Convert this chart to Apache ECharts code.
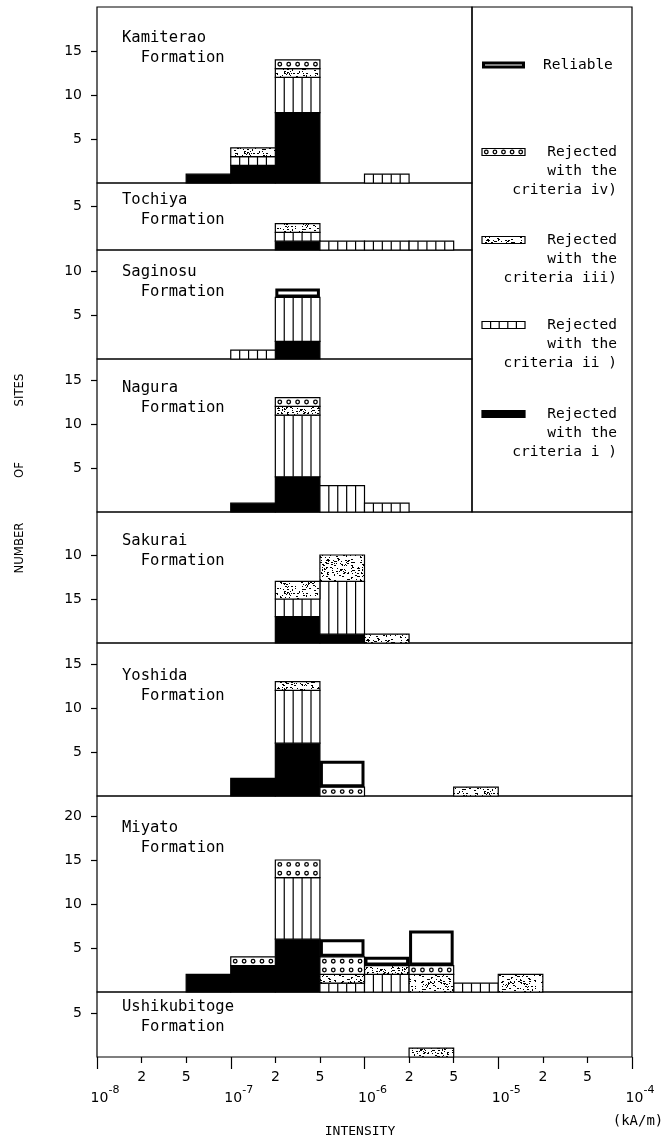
<!DOCTYPE html>
<html><head><meta charset="utf-8">
<script src="https://cdn.jsdelivr.net/npm/echarts@6/dist/echarts.min.js"></script>
<style>html,body{margin:0;padding:0;background:#fff}#c{width:671px;height:1140px}</style>
</head><body><div id="c"></div>
<script>
// ---------------- DATA ----------------
const formations = ["Kamiterao","Tochiya","Saginosu","Nagura","Sakurai","Yoshida","Miyato","Ushikubitoge"];
const categoryKeys = ["i","ii","iii","iv","rel"];
const xTickLabels = ["10^-8","2","5","10^-7","2","5","10^-6","2","5","10^-5","2","5","10^-4"];
// 12 bins: 1-2e-8, 2-5e-8, 5e-8-1e-7, 1-2e-7, 2-5e-7, 5e-7-1e-6, 1-2e-6, 2-5e-6, 5e-6-1e-5, 1-2e-5, 2-5e-5, 5e-5-1e-4
const kamiterao_i   = [0,0,1,2,8,0,0,0,0,0,0,0];
const kamiterao_ii  = [0,0,0,1,4,0,1,0,0,0,0,0];
const kamiterao_iii = [0,0,0,1,1,0,0,0,0,0,0,0];
const kamiterao_iv  = [0,0,0,0,1,0,0,0,0,0,0,0];
const kamiterao_rel = [0,0,0,0,0,0,0,0,0,0,0,0];
const tochiya_i   = [0,0,0,0,1,0,0,0,0,0,0,0];
const tochiya_ii  = [0,0,0,0,1,1,1,1,0,0,0,0];
const tochiya_iii = [0,0,0,0,1,0,0,0,0,0,0,0];
const tochiya_iv  = [0,0,0,0,0,0,0,0,0,0,0,0];
const tochiya_rel = [0,0,0,0,0,0,0,0,0,0,0,0];
const saginosu_i   = [0,0,0,0,2,0,0,0,0,0,0,0];
const saginosu_ii  = [0,0,0,1,5,0,0,0,0,0,0,0];
const saginosu_iii = [0,0,0,0,0,0,0,0,0,0,0,0];
const saginosu_iv  = [0,0,0,0,0,0,0,0,0,0,0,0];
const saginosu_rel = [0,0,0,0,1,0,0,0,0,0,0,0];
const nagura_i   = [0,0,0,1,4,0,0,0,0,0,0,0];
const nagura_ii  = [0,0,0,0,7,3,1,0,0,0,0,0];
const nagura_iii = [0,0,0,0,1,0,0,0,0,0,0,0];
const nagura_iv  = [0,0,0,0,1,0,0,0,0,0,0,0];
const nagura_rel = [0,0,0,0,0,0,0,0,0,0,0,0];
const sakurai_i   = [0,0,0,0,3,1,0,0,0,0,0,0];
const sakurai_ii  = [0,0,0,0,2,6,0,0,0,0,0,0];
const sakurai_iii = [0,0,0,0,2,3,1,0,0,0,0,0];
const sakurai_iv  = [0,0,0,0,0,0,0,0,0,0,0,0];
const sakurai_rel = [0,0,0,0,0,0,0,0,0,0,0,0];
const yoshida_i   = [0,0,0,2,6,0,0,0,0,0,0,0];
const yoshida_ii  = [0,0,0,0,6,0,0,0,0,0,0,0];
const yoshida_iii = [0,0,0,0,1,0,0,0,1,0,0,0];
const yoshida_iv  = [0,0,0,0,0,1,0,0,0,0,0,0];
const yoshida_rel = [0,0,0,0,0,3,0,0,0,0,0,0];
const miyato_i   = [0,0,2,3,6,0,0,0,0,0,0,0];
const miyato_ii  = [0,0,0,0,7,1,2,0,1,0,0,0];
const miyato_iii = [0,0,0,0,0,1,1,2,0,2,0,0];
const miyato_iv  = [0,0,0,1,2,2,0,1,0,0,0,0];
const miyato_rel = [0,0,0,0,0,2,1,4,0,0,0,0];
const ushikubitoge_i   = [0,0,0,0,0,0,0,0,0,0,0,0];
const ushikubitoge_ii  = [0,0,0,0,0,0,0,0,0,0,0,0];
const ushikubitoge_iii = [0,0,0,0,0,0,0,1,0,0,0,0];
const ushikubitoge_iv  = [0,0,0,0,0,0,0,0,0,0,0,0];
const ushikubitoge_rel = [0,0,0,0,0,0,0,0,0,0,0,0];
const yTicks = [[5,10,15],[5],[5,10],[5,10,15],[5,10],[5,10,15],[5,10,15,20],[5]];
const yTickLabels = [["5","10","15"],["5"],["5","10"],["5","10","15"],["15","10"],["5","10","15"],["5","10","15","20"],["5"]];
const legendNames = ["Reliable","Rejected\nwith the\ncriteria iv)","Rejected\nwith the\ncriteria iii)","Rejected\nwith the\ncriteria ii )","Rejected\nwith the\ncriteria i )"];

const panelData = [
  [kamiterao_i,kamiterao_ii,kamiterao_iii,kamiterao_iv,kamiterao_rel],
  [tochiya_i,tochiya_ii,tochiya_iii,tochiya_iv,tochiya_rel],
  [saginosu_i,saginosu_ii,saginosu_iii,saginosu_iv,saginosu_rel],
  [nagura_i,nagura_ii,nagura_iii,nagura_iv,nagura_rel],
  [sakurai_i,sakurai_ii,sakurai_iii,sakurai_iv,sakurai_rel],
  [yoshida_i,yoshida_ii,yoshida_iii,yoshida_iv,yoshida_rel],
  [miyato_i,miyato_ii,miyato_iii,miyato_iv,miyato_rel],
  [ushikubitoge_i,ushikubitoge_ii,ushikubitoge_iii,ushikubitoge_iv,ushikubitoge_rel]
];

// ---------------- LAYOUT ----------------
const B = [7,183,250,359,512,643,796,992,1057];
const LEFT = 97, RIGHT_FULL = 632, RIGHT_UP = 472, PX_PER_UNIT = 8.8, NB = 12;
const nameOffsets = [31,17,22,29,29,33,32,15];
const MONO = "'DejaVu Sans Mono', 'Liberation Mono', monospace";
const SANS = "'DejaVu Sans', 'Liberation Sans', sans-serif";
const LW = 1.2;

function makeStipple(){
  const N = 40;
  const c = document.createElement('canvas'); c.width = N; c.height = N;
  const g = c.getContext('2d'); g.fillStyle = '#fff'; g.fillRect(0,0,N,N); g.fillStyle = '#000';
  let s = 2463534242;
  const nxt = () => { s ^= s << 13; s >>>= 0; s ^= s >>> 17; s ^= s << 5; s >>>= 0; return s; };
  for (let k = 0; k < 210; k++) { const x = nxt() % N, y = nxt() % N; g.fillRect(x, y, (nxt()%3===0)?2:1, 1); }
  return c;
}
const stipple = makeStipple();

function seg(type, x, y, w, h, rows){
  const ch = [];
  const box = {x:x, y:y, width:w, height:h};
  if (type === 'i') {
    ch.push({type:'rect', shape:box, style:{fill:'#000', stroke:'#000', lineWidth:LW}});
  } else if (type === 'ii') {
    ch.push({type:'rect', shape:box, style:{fill:'#fff', stroke:'#000', lineWidth:LW}});
    for (let k = 1; k < 5; k++) ch.push({type:'line', shape:{x1:x+w*k/5, y1:y, x2:x+w*k/5, y2:y+h}, style:{stroke:'#000', lineWidth:1.2}});
  } else if (type === 'iii') {
    ch.push({type:'rect', shape:box, style:{fill:{image:stipple, repeat:'repeat'}, stroke:'#000', lineWidth:LW}});
  } else if (type === 'iv') {
    ch.push({type:'rect', shape:box, style:{fill:'#fff', stroke:'#000', lineWidth:LW}});
    const rh = h / rows;
    for (let r = 0; r < rows; r++) for (let k = 0; k < 5; k++)
      ch.push({type:'circle', shape:{cx:x+w*(k+0.5)/5, cy:y+rh*(r+0.5), r:1.8}, style:{fill:'#fff', stroke:'#000', lineWidth:1.3}});
  } else if (type === 'rel') {
    ch.push({type:'rect', shape:{x:x+1.5, y:y+1.5, width:w-3, height:h-3}, style:{fill:'#fff', stroke:'#000', lineWidth:3}});
  }
  return {type:'group', children:ch};
}

const grids = [], xAxes = [], yAxes = [], series = [];
for (let p = 0; p < 8; p++) {
  const upper = p < 4;
  const w = (upper ? RIGHT_UP : RIGHT_FULL) - LEFT;
  const h = B[p+1] - B[p];
  grids.push({left:LEFT, top:B[p], width:w, height:h, show:true, borderColor:'#000', borderWidth:LW, backgroundColor:'transparent'});
  const xa = {type:'value', gridIndex:p, min:0, max:NB*w/(RIGHT_FULL-LEFT), show:p===7,
    axisLine:{show:false}, splitLine:{show:false}};
  if (p === 7) {
    const minor = [1,2,4,5,7,8,10,11];
    xa.axisTick = {show:true, customValues:minor, length:6, lineStyle:{color:'#000', width:1.2}};
    xa.axisLabel = {customValues:minor, formatter:v => xTickLabels[v], color:'#000', fontFamily:SANS, fontSize:14, margin:13};
  }
  xAxes.push(xa);
  const tv = yTicks[p], tl = yTickLabels[p];
  yAxes.push({type:'value', gridIndex:p, min:0, max:h/PX_PER_UNIT,
    axisLine:{show:false}, splitLine:{show:false},
    axisTick:{show:true, inside:false, length:6, customValues:tv, lineStyle:{color:'#000', width:1.2}},
    axisLabel:{customValues:tv, formatter:v => tl[tv.indexOf(v)], color:'#000', fontFamily:SANS, fontSize:14, margin:15}});
  const cum = new Array(NB).fill(0);
  panelData[p].forEach((arr, ci) => {
    const data = [];
    arr.forEach((v, b) => { if (v > 0) { data.push([b, cum[b], cum[b] + v]); cum[b] += v; } });
    const type = categoryKeys[ci];
    series.push({type:'custom', name:legendNames[ci], coordinateSystem:'cartesian2d', xAxisIndex:p, yAxisIndex:p,
      encode:{x:0, y:2}, data:data, silent:true,
      renderItem:(params, api) => {
        const b = api.value(0), y0 = api.value(1), y1 = api.value(2);
        const p0 = api.coord([b, y0]), p1 = api.coord([b+1, y1]);
        return seg(type, p0[0], p1[1], p1[0]-p0[0], p0[1]-p1[1], Math.round(y1-y0));
      }});
  });
}
// decade ticks / labels on an overlay of the bottom panel
grids.push({left:LEFT, top:B[7], width:RIGHT_FULL-LEFT, height:B[8]-B[7], show:false});
const decades = [0,3,6,9,12];
xAxes.push({type:'value', gridIndex:8, min:0, max:NB, axisLine:{show:false}, splitLine:{show:false},
  axisTick:{show:true, customValues:decades, length:12, lineStyle:{color:'#000', width:1.2}},
  axisLabel:{customValues:decades, margin:26, color:'#000',
    formatter:v => { const s = xTickLabels[v].split('^'); return '{b|' + s[0] + '}{s|' + s[1] + '}'; },
    rich:{b:{fontFamily:SANS, fontSize:14, color:'#000', lineHeight:22, padding:[8,0,0,16]}, s:{fontFamily:SANS, fontSize:11, color:'#000', lineHeight:22, padding:[0,0,8,0]}}}});
yAxes.push({type:'value', gridIndex:8, show:false, min:0, max:1});

const graphics = [];
formations.forEach((f, p) => {
  graphics.push({type:'text', x:122, y:B[p] + nameOffsets[p] - 10, z:10,
    style:{text:f + '\n  Formation', fontFamily:MONO, fontSize:15.5, lineHeight:20, fill:'#000', textAlign:'left', textVerticalAlign:'top'}});
});
graphics.push({type:'rect', shape:{x:RIGHT_UP, y:B[0], width:RIGHT_FULL-RIGHT_UP, height:B[4]-B[0]}, style:{fill:'none', stroke:'#000', lineWidth:LW}, z:5});
const legendY = [65, 152, 240, 325, 414];
const legendTypes = ['rel','iv','iii','ii','i'];
legendTypes.forEach((t, k) => {
  const g = seg(t, 482, legendY[k]-3.5, 43, 7, 1);
  g.z = 10; graphics.push(g);
  if (k === 0) {
    graphics.push({type:'text', x:543, y:legendY[k], z:10, style:{text:legendNames[k], fontFamily:MONO, fontSize:14.5, fill:'#000', textAlign:'left', textVerticalAlign:'middle'}});
  } else {
    graphics.push({type:'text', x:617, y:legendY[k]-9.5, z:10, style:{text:legendNames[k], fontFamily:MONO, fontSize:14.5, lineHeight:19, fill:'#000', textAlign:'right', textVerticalAlign:'top'}});
  }
});
const axisNameFont = "'Liberation Sans Narrow', 'DejaVu Sans Condensed', sans-serif";
[['NUMBER', 548], ['OF', 470], ['SITES', 390]].forEach(([t, yy]) => {
  graphics.push({type:'text', x:20, y:yy, rotation:Math.PI/2, z:10, style:{text:t, fontFamily:axisNameFont, fontSize:13, fill:'#000', textAlign:'center', textVerticalAlign:'middle'}});
});
graphics.push({type:'text', x:360, y:1132, z:10, style:{text:'INTENSITY', fontFamily:MONO, fontSize:13, fill:'#000', textAlign:'center', textVerticalAlign:'middle'}});
graphics.push({type:'text', x:638, y:1121, z:10, style:{text:'(kA/m)', fontFamily:MONO, fontSize:14, fill:'#000', textAlign:'center', textVerticalAlign:'middle'}});

const chart = echarts.init(document.getElementById('c'));
chart.setOption({animation:false, backgroundColor:'#fff', grid:grids, xAxis:xAxes, yAxis:yAxes, series:series, graphic:graphics});
</script></body></html>
